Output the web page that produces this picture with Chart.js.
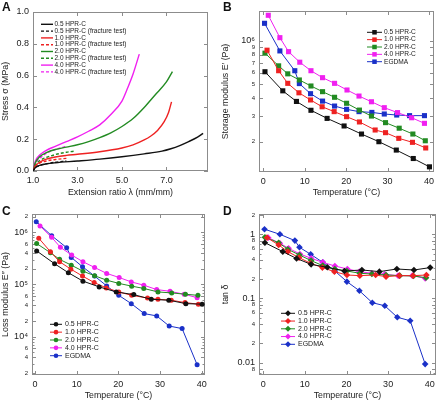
<!DOCTYPE html>
<html>
<head>
<meta charset="utf-8">
<script src="https://cdn.jsdelivr.net/npm/chart.js@4.4.1/dist/chart.umd.min.js"></script>
<style>
  body { margin: 0; background: #fff; font-family: "Liberation Sans", Arial, sans-serif; }
  #wrap { position: relative; width: 440px; height: 401px; overflow: hidden; }
  canvas { position: absolute; }
  .tag { position: absolute; font-weight: bold; font-size: 12px; line-height: 1; color: #111; }
</style>
</head>
<body>
<div id="wrap">
  <canvas id="cA" width="220" height="198" style="left:0;top:0"></canvas>
  <canvas id="cB" width="220" height="198" style="left:220px;top:0"></canvas>
  <canvas id="cC" width="220" height="203" style="left:0;top:198px"></canvas>
  <canvas id="cD" width="220" height="203" style="left:220px;top:198px"></canvas>
  <div class="tag" style="left:2px;top:1px">A</div>
  <div class="tag" style="left:223px;top:1px">B</div>
  <div class="tag" style="left:2px;top:205px">C</div>
  <div class="tag" style="left:223px;top:205px">D</div>
</div>
<script>
// ---- panel A: stress vs extension ratio ----
const lam05 = [1.0, 1.1, 1.3, 1.6, 2.0, 3.0, 4.0, 5.0, 6.0, 6.8, 7.2, 7.6, 8.0, 8.4, 8.65];
const sig05 = [0, 0.02, 0.035, 0.045, 0.052, 0.063, 0.075, 0.09, 0.108, 0.125, 0.14, 0.16, 0.185, 0.213, 0.237];
const lam05f = [1.0, 1.1, 1.3, 1.6, 2.0, 2.5];
const sig05f = [0, 0.02, 0.035, 0.045, 0.055, 0.063];
const lam10 = [1.0, 1.1, 1.3, 1.6, 2.0, 2.5, 3.0, 4.0, 5.0, 5.5, 6.0, 6.3, 6.6, 6.9, 7.1, 7.23];
const sig10 = [0, 0.03, 0.055, 0.075, 0.088, 0.098, 0.105, 0.121, 0.145, 0.164, 0.195, 0.22, 0.255, 0.31, 0.37, 0.435];
const lam10f = [1.0, 1.1, 1.3, 1.6, 2.0, 2.55];
const sig10f = [0, 0.03, 0.05, 0.063, 0.072, 0.08];
const lam20 = [1.0, 1.1, 1.3, 1.6, 2.0, 2.5, 3.0, 3.5, 4.0, 4.5, 5.0, 5.5, 6.0, 6.5, 7.0, 7.27];
const sig20 = [0, 0.05, 0.09, 0.115, 0.135, 0.15, 0.165, 0.185, 0.21, 0.24, 0.28, 0.33, 0.4, 0.48, 0.56, 0.625];
const lam20f = [1.0, 1.1, 1.3, 1.6, 2.0, 2.5, 2.9];
const sig20f = [0, 0.035, 0.065, 0.085, 0.103, 0.118, 0.125];
const lam40 = [1.0, 1.1, 1.3, 1.6, 2.0, 2.5, 3.0, 3.5, 4.0, 4.5, 5.0, 5.25, 5.5, 5.78];
const sig40 = [0, 0.06, 0.1, 0.13, 0.155, 0.185, 0.215, 0.25, 0.29, 0.355, 0.44, 0.52, 0.61, 0.735];
const lam40f = [1.0, 1.1, 1.3, 1.6, 2.0, 2.5];
const sig40f = [0, 0.045, 0.08, 0.11, 0.135, 0.155];

// ---- panels B-D: temperature sweeps ----
const temp05 = [0.4, 4.7, 8.0, 11.5, 15.4, 19.5, 23.7, 27.9, 32.1, 36.2, 40.1];
const temp10 = [0.9, 3.7, 5.9, 8.6, 11.4, 14.2, 17.1, 20.1, 23.2, 27.0, 29.5, 32.7, 36.0, 39.2];
const temp20 = [0.4, 3.7, 5.9, 8.7, 11.5, 14.3, 17.2, 20.1, 23.2, 26.1, 29.5, 32.8, 36.1, 39.1];
const temp40 = [1.2, 4.0, 6.1, 8.8, 11.5, 14.3, 17.2, 20.2, 23.1, 26.1, 29.2, 32.4, 35.8, 38.9];
const tempEG = [0.3, 4.0, 7.6, 8.7, 11.4, 14.3, 17.2, 20.1, 23.1, 26.2, 29.2, 32.2, 35.3, 38.9];

const store05 = [6.1e5, 4.5e5, 3.8e5, 3.3e5, 2.9e5, 2.57e5, 2.26e5, 2.0e5, 1.75e5, 1.53e5, 1.34e5];
const store10 = [8.6e5, 6.2e5, 5.07e5, 4.36e5, 3.89e5, 3.49e5, 3.23e5, 2.98e5, 2.74e5, 2.41e5, 2.31e5, 2.11e5, 1.98e5, 1.81e5];
const store20 = [8.2e5, 6.7e5, 5.9e5, 5.35e5, 4.86e5, 4.44e5, 4.06e5, 3.69e5, 3.31e5, 3.01e5, 2.71e5, 2.48e5, 2.26e5, 2.03e5];
const store40 = [1.5e6, 1.05e6, 8.4e5, 7.1e5, 6.2e5, 5.55e5, 5.07e5, 4.56e5, 4.14e5, 3.78e5, 3.44e5, 3.18e5, 2.93e5, 2.68e5];
const storeEG = [1.32e6, 8.5e5, 6.2e5, 5.05e5, 4.3e5, 3.82e5, 3.53e5, 3.35e5, 3.23e5, 3.19e5, 3.11e5, 3.06e5, 3.03e5, 3.03e5];

const loss05 = [4.4e5, 2.5e5, 1.68e5, 1.16e5, 9.0e4, 7.2e4, 6.4e4, 5.2e4, 5.0e4, 4.3e4, 4.2e4];
const loss10 = [7.7e5, 4.25e5, 2.73e5, 1.97e5, 1.45e5, 1.09e5, 8.6e4, 7.2e4, 6.2e4, 5.5e4, 5.2e4, 5.0e4, 4.5e4, 4.2e4];
const loss20 = [6.1e5, 4.06e5, 3.03e5, 2.35e5, 1.8e5, 1.47e5, 1.21e5, 1.05e5, 9.3e4, 8.4e4, 7.2e4, 6.9e4, 6.5e4, 6.2e4];
const loss40 = [1.32e6, 8.0e5, 5.15e5, 3.67e5, 2.73e5, 2.12e5, 1.63e5, 1.36e5, 1.12e5, 9.7e4, 8.0e4, 7.4e4, 6.5e4, 5.6e4];
const lossEG = [1.6e6, 8.6e5, 5.07e5, 3.3e5, 2.19e5, 1.45e5, 9.4e4, 6.2e4, 4.3e4, 2.77e4, 2.5e4, 1.6e4, 1.43e4, 2.9e3];

const tan05 = [0.74, 0.537, 0.42, 0.34, 0.306, 0.268, 0.278, 0.262, 0.288, 0.278, 0.303];
const tan10 = [0.887, 0.682, 0.537, 0.433, 0.353, 0.303, 0.262, 0.232, 0.227, 0.232, 0.219, 0.227, 0.227, 0.232];
const tan20 = [0.9, 0.74, 0.584, 0.476, 0.389, 0.325, 0.288, 0.268, 0.247, 0.241, 0.232, 0.227, 0.224, 0.211];
const tan40 = [0.887, 0.724, 0.605, 0.494, 0.423, 0.366, 0.321, 0.288, 0.262, 0.247, 0.238, 0.227, 0.227, 0.206];
const tanEG = [1.2, 1.0, 0.797, 0.627, 0.488, 0.366, 0.268, 0.183, 0.132, 0.086, 0.077, 0.051, 0.045, 0.0095];

// ---- tick labels ----
const ticksAx = [1, 3, 5, 7];
const labelsAx = ['1.0', '3.0', '5.0', '7.0'];
const ticksAy = [0, 0.2, 0.4, 0.6, 0.8, 1.0];
const labelsAy = ['0.0', '0.2', '0.4', '0.6', '0.8', '1.0'];
const ticksT = [0, 10, 20, 30, 40];
const labelsT = ['0', '10', '20', '30', '40'];
const ticksBy = [2e5, 3e5, 4e5, 5e5, 6e5, 7e5, 8e5, 9e5, 1e6];
const labelsBy = ['2', '3', '4', '5', '6', '7', '8', '9', '10⁶'];
const ticksCy = [2e3, 4e3, 6e3, 1e4, 2e4, 4e4, 6e4, 1e5, 2e5, 4e5, 6e5, 1e6, 2e6];
const labelsCy = ['2', '4', '6', '10⁴', '2', '4', '6', '10⁵', '2', '4', '6', '10⁶', '2'];
const minorCy = [3e3, 5e3, 7e3, 8e3, 9e3, 3e4, 5e4, 7e4, 8e4, 9e4, 3e5, 5e5, 7e5, 8e5, 9e5];
const ticksDy = [0.008, 0.01, 0.02, 0.04, 0.06, 0.08, 0.1, 0.2, 0.4, 0.6, 0.8, 1, 2];
const labelsDy = ['8', '0.01', '2', '4', '6', '8', '0.1', '2', '4', '6', '8', '1', '2'];
const minorDy = [0.007, 0.03, 0.05, 0.07, 0.09, 0.3, 0.5, 0.7, 0.9];

const BLACK = '#111111', RED = '#ee2222', GREEN = '#228b22', PINK = '#f020f0', BLUE = '#1a30c8';
const FAMILY = '"Liberation Sans", Arial, sans-serif';
Chart.defaults.font.family = FAMILY;
Chart.defaults.color = '#222';

function pts(xs, ys) { return xs.map((x, i) => ({ x: x, y: ys[i] })); }

function drawMark(ctx, style, x, y, r, color) {
  ctx.fillStyle = color;
  ctx.beginPath();
  if (style === 'rect') {
    const s = r * Math.SQRT1_2;
    ctx.rect(x - s, y - s, 2 * s, 2 * s);
  } else if (style === 'rectRot') {
    ctx.moveTo(x - r, y); ctx.lineTo(x, y - r); ctx.lineTo(x + r, y); ctx.lineTo(x, y + r); ctx.closePath();
  } else {
    ctx.arc(x, y, r, 0, Math.PI * 2);
  }
  ctx.fill();
}

// box round the plot with inward ticks on all four sides
const framePlugin = {
  id: 'frame',
  beforeDatasetsDraw(chart, args, opts) {
    const { ctx, chartArea: a, scales } = chart;
    const line = (x1, y1, x2, y2) => { ctx.beginPath(); ctx.moveTo(x1, y1); ctx.lineTo(x2, y2); ctx.stroke(); };
    ctx.save();
    ctx.strokeStyle = '#8c8c8c';
    ctx.lineWidth = 1;
    ctx.strokeRect(Math.round(a.left) + 0.5, Math.round(a.top) + 0.5, Math.round(a.right - a.left) - 1, Math.round(a.bottom - a.top) - 1);
    const xv = (len) => (v) => {
      const p = Math.round(scales.x.getPixelForValue(v)) + 0.5;
      line(p, a.bottom, p, a.bottom - len); line(p, a.top, p, a.top + len);
    };
    const yv = (len) => (v) => {
      const p = Math.round(scales.y.getPixelForValue(v)) + 0.5;
      line(a.left, p, a.left + len, p); line(a.right, p, a.right - len, p);
    };
    scales.x.ticks.forEach(t => xv(4)(t.value));
    scales.y.ticks.forEach(t => yv(4)(t.value));
    (opts.yMinor || []).forEach(yv(2.5));
    ctx.restore();
  }
};

// legend drawn inside the plot
const keyPlugin = {
  id: 'key',
  afterDraw(chart, args, o) {
    if (o.x === undefined) return;
    const ctx = chart.ctx;
    ctx.save();
    ctx.font = o.size + 'px ' + FAMILY;
    ctx.textBaseline = 'middle';
    chart.data.datasets.forEach((d, i) => {
      const yy = o.y + i * o.step;
      ctx.strokeStyle = d.borderColor;
      ctx.lineWidth = d.borderWidth;
      ctx.setLineDash(d.borderDash || []);
      ctx.beginPath(); ctx.moveTo(o.x, yy); ctx.lineTo(o.x + o.w, yy); ctx.stroke();
      ctx.setLineDash([]);
      if (d.pointRadius > 0) drawMark(ctx, d.pointStyle, o.x + o.w / 2, yy, o.r, d.borderColor);
      ctx.fillStyle = '#1a1a1a';
      ctx.fillText(d.label, o.tx, yy);
    });
    ctx.restore();
  }
};

function isSmall(lbl) { return /^[2-9]$/.test(lbl); }

function axis(type, min, max, ticks, labels, size, title, smallLabels) {
  const isX = size.h !== undefined;
  return {
    type: type, min: min, max: max, bounds: 'data',
    afterBuildTicks: s => { s.ticks = ticks.map(v => ({ value: v })); },
    afterFit: s => { if (isX) s.height = size.h; else s.width = size.w; },
    grid: { display: false, drawTicks: false },
    border: { display: false },
    ticks: {
      autoSkip: false, maxRotation: 0, padding: 4,
      callback: (v, i) => labels[i],
      font: c => ({ size: smallLabels && c.tick && isSmall(c.tick.label) ? 6 : 9 })
    },
    title: { display: true, text: title, padding: 0, font: { size: 8.8 } }
  };
}

function makeChart(id, datasets, scales, pad, key, frame) {
  return new Chart(document.getElementById(id), {
    type: 'line',
    data: { datasets: datasets },
    options: {
      responsive: false, animation: false, events: [],
      layout: { padding: pad },
      scales: scales,
      plugins: { legend: { display: false }, tooltip: { enabled: false }, key: key, frame: frame }
    },
    plugins: [framePlugin, keyPlugin]
  });
}

function curve(label, xs, ys, color, dashed) {
  return { label: label, data: pts(xs, ys), borderColor: color, backgroundColor: color,
    borderWidth: 1.4, borderDash: dashed ? [3, 2] : [], pointRadius: 0, cubicInterpolationMode: 'monotone' };
}
function marks(label, xs, ys, color, style, r) {
  return { label: label, data: pts(xs, ys), borderColor: color, backgroundColor: color,
    pointBackgroundColor: color, pointBorderColor: color, borderWidth: 1,
    pointStyle: style, pointRadius: r, pointBorderWidth: 0 };
}

// A
makeChart('cA', [
  curve('0.5 HPR-C', lam05, sig05, BLACK),
  curve('0.5 HPR-C (fracture test)', lam05f, sig05f, BLACK, true),
  curve('1.0 HPR-C', lam10, sig10, RED),
  curve('1.0 HPR-C (fracture test)', lam10f, sig10f, RED, true),
  curve('2.0 HPR-C', lam20, sig20, GREEN),
  curve('2.0 HPR-C (fracture test)', lam20f, sig20f, GREEN, true),
  curve('4.0 HPR-C', lam40, sig40, PINK),
  curve('4.0 HPR-C (fracture test)', lam40f, sig40f, PINK, true)
], {
  x: axis('linear', 1, 8.87, ticksAx, labelsAx, { h: 27 }, 'Extension ratio λ (mm/mm)'),
  y: axis('linear', 0, 1, ticksAy, labelsAy, { w: 33 }, 'Stress σ (MPa)')
}, { left: 0, top: 12, right: 12, bottom: 0 },
{ x: 41, w: 12, tx: 54.5, y: 24.3, step: 6.8, size: 6.5, r: 0 }, {});

// B
const nB = ['0.5 HPR-C', '1.0 HPR-C', '2.0 HPR-C', '4.0 HPR-C', 'EGDMA'];
makeChart('cB', [
  marks(nB[0], temp05, store05, BLACK, 'rect', 3.6),
  marks(nB[1], temp10, store10, RED, 'rect', 3.6),
  marks(nB[2], temp20, store20, GREEN, 'rect', 3.6),
  marks(nB[3], temp40, store40, PINK, 'rect', 3.6),
  marks(nB[4], tempEG, storeEG, BLUE, 'rect', 3.6)
], {
  x: axis('linear', -1.04, 41.2, ticksT, labelsT, { h: 26 }, 'Temperature (°C)'),
  y: axis('logarithmic', 1.234e5, 1.606e6, ticksBy, labelsBy, { w: 39 }, 'Storage modulus E′ (Pa)', true)
}, { left: 0, top: 11, right: 6, bottom: 0 },
{ x: 147, w: 15, tx: 164, y: 32.3, step: 7.35, size: 6.6, r: 3.2 }, {});

// C
makeChart('cC', [
  marks(nB[0], temp05, loss05, BLACK, 'circle', 2.5),
  marks(nB[1], temp10, loss10, RED, 'circle', 2.5),
  marks(nB[2], temp20, loss20, GREEN, 'circle', 2.5),
  marks(nB[3], temp40, loss40, PINK, 'circle', 2.5),
  marks(nB[4], tempEG, lossEG, BLUE, 'circle', 2.5)
], {
  x: axis('linear', -0.72, 40.79, ticksT, labelsT, { h: 26 }, 'Temperature (°C)'),
  y: axis('logarithmic', 1.845e3, 2.242e6, ticksCy, labelsCy, { w: 32 }, 'Loss modulus E″ (Pa)', true)
}, { left: 0, top: 16, right: 15, bottom: 0 },
{ x: 50, w: 12, tx: 65, y: 126.3, step: 7.85, size: 7, r: 2.3 }, { yMinor: minorCy });

// D
makeChart('cD', [
  marks(nB[0], temp05, tan05, BLACK, 'rectRot', 3.3),
  marks(nB[1], temp10, tan10, RED, 'rectRot', 3.3),
  marks(nB[2], temp20, tan20, GREEN, 'rectRot', 3.3),
  marks(nB[3], temp40, tan40, PINK, 'rectRot', 3.3),
  marks(nB[4], tempEG, tanEG, BLUE, 'rectRot', 3.3)
], {
  x: axis('linear', -1.02, 41.5, ticksT, labelsT, { h: 26 }, 'Temperature (°C)'),
  y: axis('logarithmic', 0.00643, 2.071, ticksDy, labelsDy, { w: 39 }, 'tan δ', true)
}, { left: 0, top: 16, right: 2, bottom: 0 },
{ x: 61, w: 14, tx: 78, y: 115.3, step: 7.75, size: 7, r: 3 }, { yMinor: minorDy });
</script>
</body>
</html>
